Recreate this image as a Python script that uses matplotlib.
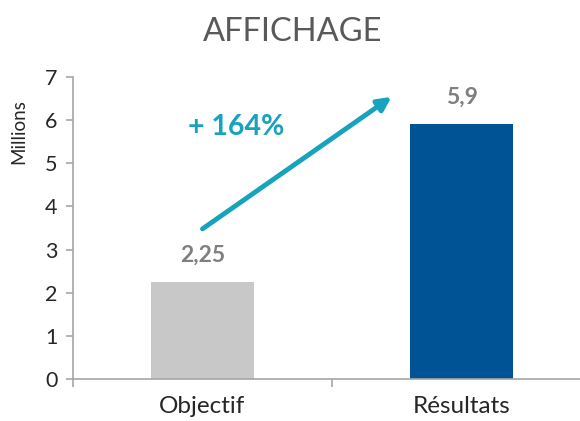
import numpy as np
import matplotlib
matplotlib.use("Agg")
import matplotlib.pyplot as plt

categories = ["Objectif", "Résultats"]
values = [2.25, 5.9]
value_labels = ["2,25", "5,9"]
bar_colors = ["#C8C8C8", "#005496"]
growth_label = "+ 164%"

plt.rcParams['font.family'] = ['Lato', 'DejaVu Sans']

fig = plt.figure(figsize=(5.8, 4.21), dpi=100)
ax = fig.add_axes([73/580, 42/421, 518/580, 302/421])

x = np.arange(len(categories))
ax.bar(x, values, width=0.40, color=bar_colors, zorder=2)

for xi, v, lab in zip(x, values, value_labels):
    ax.text(xi, v + 0.38, lab, ha='center', va='bottom', fontsize=16.5,
            fontweight='bold', color='#7F7F7F')

ax.annotate('', xy=(0.73, 6.54), xytext=(0.0, 3.48),
            arrowprops=dict(arrowstyle='-|>,head_length=0.8,head_width=0.4',
                            color='#17A2BD', lw=3.5, shrinkA=0, shrinkB=0))
ax.text(0.13, 5.85, growth_label, ha='center', va='center', fontsize=20.5,
        fontweight='bold', color='#17A2BD')

ax.set_xlim(-0.5, 1.5)
ax.set_ylim(0, 7)
ax.set_yticks(range(0, 8))
ax.set_xticks(x)
ax.set_xticklabels(categories, fontsize=17.5, color='#262626')
ax.set_xticks([-0.5, 0.5, 1.5], minor=True)
ax.tick_params(axis='x', which='major', length=0, pad=12)
ax.tick_params(axis='x', which='minor', length=6, color='#A6A6A6', width=1.2)
ax.tick_params(axis='y', length=5, color='#A6A6A6', width=1.2, labelsize=15.5,
               labelcolor='#262626', pad=6)
for s in ['top', 'right']:
    ax.spines[s].set_visible(False)
for s in ['left', 'bottom']:
    ax.spines[s].set_color('#A6A6A6')
    ax.spines[s].set_linewidth(1.2)
ax.set_ylabel('Millions', fontsize=13.5, color='#262626')
ax.yaxis.set_label_coords(-0.088, 0.82)

fig.text(293/580, 1 - 32/421, 'AFFICHAGE', ha='center', va='center',
         fontsize=23.5, color='#595959')

fig.savefig('out.png', dpi=100)
